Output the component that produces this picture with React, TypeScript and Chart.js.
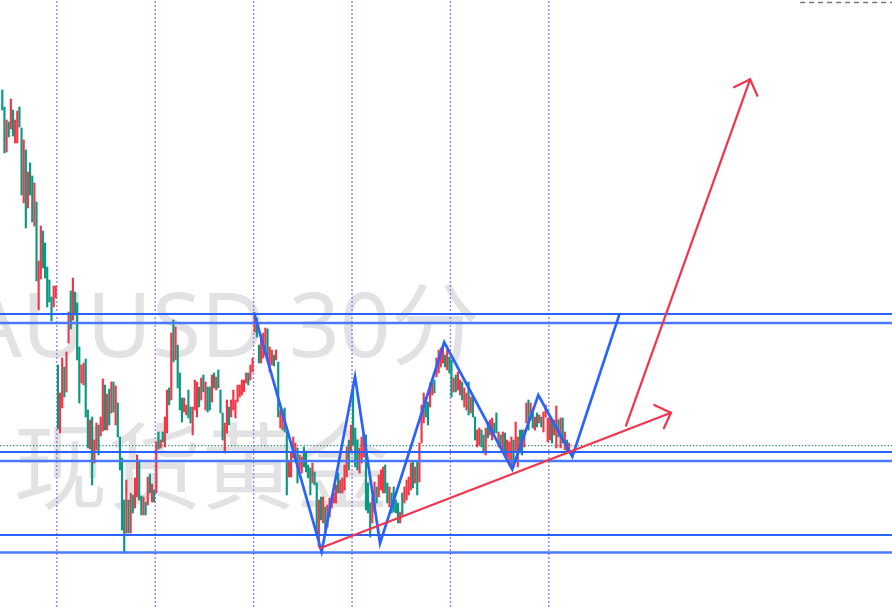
import React, { useEffect, useRef } from 'react';
import { Chart, registerables } from 'chart.js';

Chart.register(...registerables);

// ---- 30-minute bars, grouped by trading session (46 bars per session) ----
const session0High = [1991.0,1989.3,1988.0,1987.8,1990.1,1989.0,1988.0,1988.9,1989.3,1987.2,1986.0,1985.0,1982.8,1983.7,1982.4,1981.7,1979.8,1973.9,1977.4,1976.9,1975.7,1973.3,1972.0,1970.3,1971.4,1971.4];
const session0Low = [1989.0,1984.7,1984.8,1986.3,1987.1,1986.4,1985.7,1985.7,1987.3,1980.5,1979.7,1977.2,1979.2,1980.5,1977.8,1977.4,1971.9,1969.0,1972.1,1973.2,1972.2,1969.3,1969.8,1967.9,1969.3,1970.2];
const session0Dir = 'GGRGRGRRGGRGRGGRGRRGGGGGRR';

const session1High = [1963.5,1960.7,1964.2,1963.3,1964.8,1968.8,1970.9,1972.2,1970.8,1969.7,1965.3,1963.5,1963.7,1964.1,1959.0,1958.0,1958.3,1956.0,1957.7,1957.5,1958.3,1962.1,1961.5,1960.6,1961.1,1961.8,1961.8,1961.4,1959.7,1956.3,1954.2,1950.0,1952.0,1950.0,1950.7,1950.5,1952.2,1954.5,1954.0,1950.4,1950.3,1949.8,1952.3,1952.6,1951.6,1951.0];
const session1Low = [1957.1,1956.7,1959.2,1960.3,1960.8,1965.7,1967.1,1968.0,1968.5,1964.0,1959.7,1961.7,1961.5,1958.3,1955.2,1955.1,1951.5,1953.7,1955.0,1954.5,1956.4,1956.9,1957.0,1957.0,1957.5,1958.7,1958.8,1957.5,1956.3,1953.0,1947.0,1944.7,1946.7,1946.7,1946.7,1948.7,1949.2,1950.3,1950.0,1948.5,1948.5,1948.5,1949.5,1950.7,1949.8,1949.8];
const session1Dir = 'GRRGRRGRGGGRRGGRGRRGRRGRGRGRGGGGRGRGRRGGRGRGRG';

const session2High = [1955.8,1956.8,1956.0,1956.8,1958.3,1961.0,1961.2,1966.7,1968.0,1967.3,1965.5,1962.7,1960.2,1960.2,1959.5,1961.0,1959.3,1959.3,1962.0,1961.8,1961.3,1962.2,1962.5,1961.8,1961.3,1961.3,1962.5,1962.7,1962.3,1963.0,1961.0,1958.7,1957.7,1960.0,1959.3,1960.0,1961.0,1960.0,1961.5,1961.5,1962.0,1962.0,1962.7,1962.7,1963.5,1964.2];
const session2Low = [1950.7,1955.1,1955.2,1955.8,1955.3,1956.7,1959.5,1960.0,1963.8,1964.0,1961.2,1959.0,1957.8,1958.8,1958.5,1958.2,1957.7,1956.5,1959.0,1958.3,1959.3,1960.0,1960.8,1959.0,1958.8,1959.0,1959.8,1961.2,1961.0,1961.2,1958.7,1956.0,1954.7,1956.7,1957.5,1958.3,1959.0,1958.2,1959.8,1960.3,1960.5,1960.8,1961.7,1961.5,1962.0,1962.8];
const session2Dir = 'RGRGRRGRGRGGGRRGGRRRGRGRGGRGRGGGRRGRRRRRRRRGRR';

const session3High = [1968.5,1968.2,1965.5,1966.5,1966.7,1967.2,1967.1,1965.3,1965.0,1964.5,1965.0,1963.8,1959.0,1959.0,1959.2,1956.8,1953.8,1954.8,1956.3,1955.7,1955.2,1954.5,1954.3,1955.3,1954.7,1953.5,1953.2,1953.7,1952.8,1951.7,1950.0,1950.3,1950.3,1949.3,1949.5,1950.2,1950.3,1950.7,1951.5,1952.7,1952.0,1952.2,1953.5,1955.3,1956.0,1957.5];
const session3Low = [1966.8,1966.3,1963.7,1963.7,1964.2,1964.5,1964.0,1962.8,1963.5,1963.4,1964.0,1958.3,1957.2,1957.0,1956.8,1950.5,1952.3,1952.3,1954.2,1954.0,1951.7,1953.0,1952.7,1953.3,1952.8,1952.2,1950.5,1951.7,1951.5,1946.7,1945.3,1948.0,1947.7,1947.0,1947.3,1948.3,1949.2,1949.7,1949.7,1950.7,1950.7,1950.7,1951.0,1952.3,1953.0,1954.8];
const session3Dir = 'RGGRRRGRRGRGRRGGRRRRGRRGGGGRGGRGRGRRRRRGRRRRGR';

const session4High = [1961.3,1957.2,1956.0,1955.2,1956.3,1956.7,1956.5,1951.7,1949.7,1950.3,1951.8,1951.3,1952.5,1953.0,1953.3,1953.5,1951.7,1951.3,1950.7,1951.3,1950.0,1949.7,1948.8,1950.7,1951.3,1952.0,1952.3,1953.7,1953.8,1953.3,1953.8,1955.7,1959.5,1960.7,1960.3,1959.8,1961.7,1961.7,1962.0,1964.2,1965.0,1965.2,1965.3,1964.5,1965.0,1964.3];
const session4Low = [1955.5,1953.3,1953.0,1952.7,1953.7,1954.3,1949.0,1948.7,1946.3,1947.7,1948.8,1949.7,1950.3,1951.0,1950.7,1950.7,1949.7,1949.3,1948.7,1948.8,1948.7,1947.7,1947.7,1948.5,1949.7,1950.0,1950.5,1951.0,1951.2,1951.7,1950.5,1951.8,1955.7,1957.7,1958.3,1957.5,1959.3,1960.5,1960.7,1962.3,1962.7,1963.3,1963.7,1963.3,1963.0,1962.7];
const session4Dir = 'GGGRRRGGGRRGRRRGGRGGGGRGRRRRGRGRRRGGRRGRRRRGRG';

const session5High = [1964.0,1962.2,1962.5,1962.8,1962.0,1961.8,1961.2,1960.7,1961.8,1960.3,1960.3,1958.3,1957.0,1957.2,1957.0,1956.5,1957.2,1957.8,1958.0,1958.2,1957.7,1958.7,1956.8,1956.5,1956.8,1956.7,1956.0,1955.8,1956.3,1956.0,1957.8,1956.3,1957.0,1957.0,1957.0,1959.7,1960.0,1959.7,1958.8,1958.3,1958.7,1958.5,1958.3,1958.8,1959.5,1958.2];
const session5Low = [1960.3,1960.8,1960.8,1961.0,1960.5,1960.0,1959.3,1959.0,1958.5,1958.7,1958.3,1956.0,1955.3,1955.5,1955.3,1954.7,1954.5,1956.2,1956.5,1956.0,1956.7,1956.7,1955.3,1955.3,1955.0,1954.3,1954.3,1953.5,1953.3,1953.3,1954.8,1953.3,1954.7,1954.5,1955.3,1957.7,1957.0,1958.0,1957.2,1957.0,1957.3,1957.7,1957.3,1956.8,1958.3,1955.8];
const session5Dir = 'GRGRRGRRGRGGRRGGRGRRGGRGRGRRRGRRGGRRGRGRGRGRRR';

const session6High = [1958.2,1958.0,1958.0,1959.4,1958.0,1958.2,1958.2,1956.8,1956.0,1955.7];
const session6Low = [1956.0,1955.7,1956.5,1955.2,1956.3,1955.2,1955.7,1955.0,1954.8,1954.7];
const session6Dir = 'RGRRGRGRGR';

const highs = [...session0High, ...session1High, ...session2High, ...session3High, ...session4High, ...session5High, ...session6High];
const lows = [...session0Low, ...session1Low, ...session2Low, ...session3Low, ...session4Low, ...session5Low, ...session6Low];
const dirs = (session0Dir + session1Dir + session2Dir + session3Dir + session4Dir + session5Dir + session6Dir).split('');

// ---- drawings (bar index / price) ----
const sessionBreaks = [25.5, 71.5, 117.5, 163.5, 209.5, 255.5];
const levelPrices = [1968.6, 1967.7, 1954.8, 1953.9, 1946.5, 1944.75];
const lastPrice = 1955.43;
const alertPrice = 1999.75;
const alertStartIdx = 373;

const zigzagIdx = [117.8, 149.3, 164.9, 176.6, 206.6, 238.4, 250.6, 266.5, 288.3];
const zigzagPrice = [1968.67, 1944.83, 1962.33, 1945.67, 1965.77, 1953.07, 1960.5, 1954.33, 1968.43];

const trendIdx = [148.5, 312.6];
const trendPrice = [1945.17, 1958.73];
const trendHeadIdx = [304.8, 312.6, 309.3];
const trendHeadPrice = [1959.5, 1958.73, 1957.17];

const targetIdx = [291.6, 349.6];
const targetPrice = [1957.43, 1992.07];
const targetHeadIdx = [342.1, 349.6, 353.0];
const targetHeadPrice = [1991.27, 1992.07, 1990.43];

const watermarkLines = ['XAUUSD 30分', '现货黄金'];

// ---- view window ----
const X_MIN = -1.075;
const X_MAX = 415.94;
const Y_MIN = 1939.3;
const Y_MAX = 2000;

const UP = '#F23645';
const DOWN = '#089981';
const BLUE = '#2962FF';
const RED = '#F2334D';

const pts = (xs: number[], ys: number[]) => xs.map((x, i) => ({ x, y: ys[i] }));

const watermarkPlugin = {
  id: 'watermark',
  beforeDatasetsDraw(chart: any) {
    const { ctx, chartArea } = chart;
    const w = chartArea.right - chartArea.left;
    const h = chartArea.bottom - chartArea.top;
    ctx.save();
    ctx.fillStyle = '#e2e2e5';
    ctx.textAlign = 'center';
    ctx.textBaseline = 'middle';
    ctx.font = '89px "Noto Sans", "Noto Sans CJK SC", sans-serif';
    ctx.fillText(watermarkLines[0], chartArea.left + w * 0.22, chartArea.top + h * 0.547);
    ctx.font = '94px "Noto Sans CJK SC", sans-serif';
    ctx.fillText(watermarkLines[1], chartArea.left + w * 0.226, chartArea.top + h * 0.768);
    ctx.restore();
  },
};

function line(data: any[], color: string, width: number, order: number, dash: number[] = []) {
  return {
    type: 'line' as const,
    data,
    borderColor: color,
    borderWidth: width,
    borderDash: dash,
    pointRadius: 0,
    fill: false,
    tension: 0,
    order,
    borderCapStyle: 'round' as const,
    borderJoinStyle: 'miter' as const,
  };
}

export default function App() {
  const ref = useRef<HTMLCanvasElement | null>(null);

  useEffect(() => {
    if (!ref.current) return;
    const candles = highs.map((h, i) => ({ x: i, y: [lows[i], h] }));
    const colors = dirs.map((d) => (d === 'R' ? UP : DOWN));

    const datasets: any[] = [];
    sessionBreaks.forEach((b) => {
      const d = line([{ x: b, y: Y_MIN }, { x: b, y: Y_MAX }], '#a57af7', 1.4, 20, [2, 2]);
      d.borderCapStyle = 'butt' as any;
      datasets.push(d);
    });
    const lp = line([{ x: X_MIN, y: lastPrice }, { x: X_MAX, y: lastPrice }], '#2f8a70', 1.3, 19, [1.3, 2]);
    lp.borderCapStyle = 'butt' as any;
    datasets.push(lp);
    const al = line([{ x: alertStartIdx, y: alertPrice }, { x: X_MAX, y: alertPrice }], '#777777', 1.5, 19, [5, 4]);
    al.borderCapStyle = 'butt' as any;
    datasets.push(al);
    datasets.push({
      type: 'bar',
      data: candles,
      backgroundColor: colors,
      borderWidth: 0,
      barThickness: 1.5,
      order: 10,
    });
    levelPrices.forEach((p, k) => {
      datasets.push(line([{ x: X_MIN, y: p }, { x: X_MAX, y: p }], k % 2 === 0 ? BLUE : '#4a78ff', k % 2 === 0 ? 2 : 2.5, 4));
    });
    datasets.push(line(pts(zigzagIdx, zigzagPrice), BLUE, 2.7, 3));
    datasets.push(line(pts(trendIdx, trendPrice), RED, 2.2, 2));
    datasets.push(line(pts(trendHeadIdx, trendHeadPrice), RED, 2.2, 2));
    datasets.push(line(pts(targetIdx, targetPrice), RED, 2.2, 2));
    datasets.push(line(pts(targetHeadIdx, targetHeadPrice), RED, 2.2, 2));

    const chart = new Chart(ref.current, {
      type: 'bar',
      data: { datasets },
      options: {
        animation: false,
        responsive: true,
        maintainAspectRatio: false,
        devicePixelRatio: 1,
        layout: { padding: 0 },
        plugins: { legend: { display: false }, tooltip: { enabled: false } },
        scales: {
          x: { type: 'linear', min: X_MIN, max: X_MAX, display: false, offset: false, grid: { display: false } },
          y: { type: 'linear', min: Y_MIN, max: Y_MAX, display: false, grid: { display: false } },
        },
      } as any,
      plugins: [watermarkPlugin],
    });
    return () => chart.destroy();
  }, []);

  return (
    <div style={{ position: 'absolute', left: 0, top: 0, width: 892, height: 607, background: '#ffffff' }}>
      <canvas ref={ref} />
    </div>
  );
}
